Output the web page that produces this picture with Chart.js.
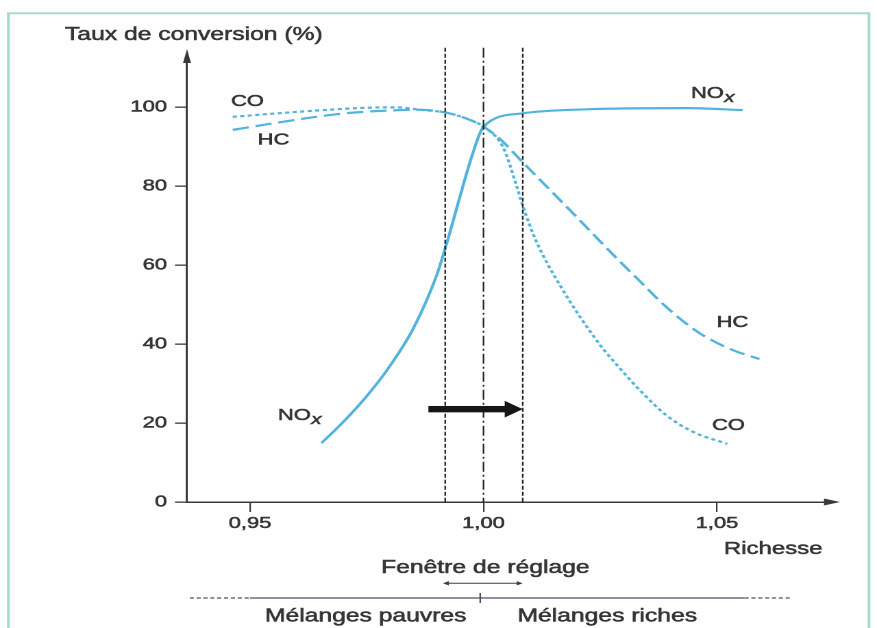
<!DOCTYPE html>
<html>
<head>
<meta charset="utf-8">
<script src="https://cdn.jsdelivr.net/npm/chart.js@4.4.1/dist/chart.umd.min.js"></script>
<style>
  html, body { margin: 0; padding: 0; background: #ffffff; overflow: hidden; }
  #wrap { position: absolute; left: 0; top: 0; width: 640px; height: 628px;
          transform: scaleX(1.3703125); transform-origin: 0 0; }
</style>
</head>
<body>
<div id="wrap"><canvas id="c"></canvas></div>
<script>
// ---------- data ----------
const richesseTicks = [0.95, 1.00, 1.05];
const tauxTicks = [0, 20, 40, 60, 80, 100];

const coRichesse = [0.9463, 0.9606, 0.9750, 0.9815, 0.9863, 0.9918, 0.9965, 1.0000, 1.0041, 1.0071, 1.0084, 1.0113, 1.0163, 1.0248, 1.0291, 1.0334, 1.0391, 1.0448, 1.0522];
const coTaux     = [97.5,   98.8,   99.8,   99.9,   99.3,   98.6,   97.0,   95.0,   90.0,   80.0,   75.0,   66.0,   55.0,   40.0,   34.0,   28.4,   22.0,   17.8,   14.7];

const hcRichesse = [0.9463, 0.9557, 0.9642, 0.9713, 0.9820, 0.9863, 0.9918, 0.9965, 1.0000, 1.0036, 1.0079, 1.0184, 1.0291, 1.0334, 1.0391, 1.0462, 1.0533, 1.0591];
const hcTaux     = [94.2,   96.0,   97.5,   98.5,   99.2,   99.3,   98.6,   97.0,   95.0,   91.8,   86.6,   74.0,   61.0,   56.0,   49.4,   42.8,   38.5,   36.2];

const noxRichesse = [0.9653, 0.9700, 0.9750, 0.9800, 0.9850, 0.9900, 0.9925, 0.9950, 0.9975, 1.0000, 1.0084, 1.0220, 1.0435, 1.0555];
const noxTaux     = [14.9,   20.3,   26.8,   34.5,   44.0,   57.5,   67.0,   77.5,   87.5,   95.0,   98.4,   99.4,   99.7,   99.2];

const windowLines = [0.9918, 1.0000, 1.0084];   // fenêtre de réglage
const shiftArrow = { from: 0.9882, to: 1.0084, taux: 23.5 };

// ---------- styles / layout ----------
const S = 877 / 640;                 // horizontal stretch of the scanned figure
const FONT = '"Liberation Sans", Arial, Helvetica, sans-serif';
const TEXT = '#363636';
const STROKE_W = 0.55;
const AXIS = '#3a3a3a';
const CURVE = '#52b3dc';
const XMIN = 0.93651, XMAX = 1.07420, YMAX = 112.9;

const curveLabels = [
  { t: 'CO',  x: 0.94946, y: 101.4 },
  { t: 'HC',  x: 0.95503, y: 91.6 },
  { t: 'NOx', x: 1.04904, y: 103.4 },
  { t: 'HC',  x: 1.05332, y: 45.4 },
  { t: 'CO',  x: 1.05246, y: 19.4 },
  { t: 'NOx', x: 0.96060, y: 21.9 }
];

function text(ctx, s, px, py, size, align, baseline, italic) {
  ctx.font = (italic ? 'italic ' : '') + size + 'px ' + FONT;
  ctx.fillStyle = TEXT;
  ctx.strokeStyle = TEXT;
  ctx.lineWidth = STROKE_W;
  ctx.textAlign = align || 'center';
  ctx.textBaseline = baseline || 'middle';
  ctx.fillText(s, px, py);
  ctx.strokeText(s, px, py);
}
function noxText(ctx, px, py, size) {
  ctx.font = size + 'px ' + FONT;
  const w1 = ctx.measureText('NO').width;
  ctx.font = 'italic ' + (size - 1) + 'px ' + FONT;
  const w2 = ctx.measureText('x').width;
  const left = px - (w1 + w2) / 2;
  text(ctx, 'NO', left, py, size, 'left', 'middle');
  text(ctx, 'x', left + w1 + 0.3, py + 4.5, size - 1, 'left', 'middle', true);
}

const annotations = {
  id: 'annotations',
  beforeDraw(chart) {
    const ctx = chart.ctx;
    ctx.save();
    ctx.strokeStyle = '#a6dbd0';
    ctx.lineWidth = 2;
    ctx.beginPath();
    ctx.moveTo(8.3 / S, 640); ctx.lineTo(8.3 / S, 13.3); ctx.lineTo(869 / S, 13.3); ctx.lineTo(869 / S, 640);
    ctx.stroke();
    ctx.restore();
  },
  afterDraw(chart) {
    const { ctx, chartArea: a, scales: { x, y } } = chart;
    ctx.save();

    // title of the vertical axis
    text(ctx, 'Taux de conversion (%)', 65 / S, 40, 18, 'left', 'alphabetic');

    // window lines
    windowLines.forEach((v, i) => {
      const px = x.getPixelForValue(v);
      ctx.strokeStyle = '#222222';
      ctx.lineWidth = 1.15;
      ctx.setLineDash(i === 1 ? [10, 3, 2, 3] : [4, 2]);
      ctx.beginPath();
      ctx.moveTo(px, y.getPixelForValue(115));
      ctx.lineTo(px, a.bottom);
      ctx.stroke();
    });
    ctx.setLineDash([]);

    // axis arrowheads
    ctx.fillStyle = AXIS;
    ctx.beginPath();
    ctx.moveTo(a.left, a.top - 7);
    ctx.lineTo(a.left - 4 / S, a.top + 7);
    ctx.lineTo(a.left + 4 / S, a.top + 7);
    ctx.closePath(); ctx.fill();
    ctx.beginPath();
    ctx.moveTo(a.right + 10 / S, a.bottom);
    ctx.lineTo(a.right - 6 / S, a.bottom - 3.5);
    ctx.lineTo(a.right - 6 / S, a.bottom + 3.5);
    ctx.closePath(); ctx.fill();

    // thick black arrow
    const ay = y.getPixelForValue(shiftArrow.taux);
    const ax0 = x.getPixelForValue(shiftArrow.from);
    const ax1 = x.getPixelForValue(shiftArrow.to);
    const headLen = 18 / S;
    ctx.fillStyle = '#161616';
    ctx.fillRect(ax0, ay - 3.2, ax1 - headLen - ax0 + 1, 6.4);
    ctx.beginPath();
    ctx.moveTo(ax1, ay);
    ctx.lineTo(ax1 - headLen, ay - 8.3);
    ctx.lineTo(ax1 - headLen, ay + 8.3);
    ctx.closePath(); ctx.fill();

    // curve labels
    curveLabels.forEach(l => {
      const px = x.getPixelForValue(l.x), py = y.getPixelForValue(l.y);
      if (l.t === 'NOx') noxText(ctx, px, py, 16);
      else text(ctx, l.t, px, py, 16, 'center', 'middle');
    });

    // axis name
    text(ctx, 'Richesse', x.getPixelForValue(1.0726), 554, 17.5, 'right', 'alphabetic');

    // fenêtre de réglage
    text(ctx, 'Fenêtre de réglage', x.getPixelForValue(1.0004), 573, 18, 'center', 'alphabetic');
    const f0 = x.getPixelForValue(0.9913), f1 = x.getPixelForValue(1.0084), fy = 583.3;
    ctx.strokeStyle = '#3a3f4a'; ctx.fillStyle = '#3a3f4a'; ctx.lineWidth = 1;
    ctx.beginPath(); ctx.moveTo(f0 + 3, fy); ctx.lineTo(f1 - 3, fy); ctx.stroke();
    ctx.beginPath(); ctx.moveTo(f0, fy); ctx.lineTo(f0 + 6 / S, fy - 2.2); ctx.lineTo(f0 + 6 / S, fy + 2.2); ctx.closePath(); ctx.fill();
    ctx.beginPath(); ctx.moveTo(f1, fy); ctx.lineTo(f1 - 6 / S, fy - 2.2); ctx.lineTo(f1 - 6 / S, fy + 2.2); ctx.closePath(); ctx.fill();

    // lean / rich line
    const ly = 598;
    ctx.strokeStyle = '#4a5262'; ctx.lineWidth = 1.3;
    ctx.setLineDash([3, 2]);
    ctx.beginPath(); ctx.moveTo(x.getPixelForValue(0.9371), ly); ctx.lineTo(x.getPixelForValue(0.9500), ly); ctx.stroke();
    ctx.beginPath(); ctx.moveTo(x.getPixelForValue(1.0559), ly); ctx.lineTo(x.getPixelForValue(1.0659), ly); ctx.stroke();
    ctx.setLineDash([]);
    ctx.beginPath(); ctx.moveTo(x.getPixelForValue(0.9500), ly); ctx.lineTo(x.getPixelForValue(1.0559), ly); ctx.stroke();
    const tx = x.getPixelForValue(0.9993);
    ctx.lineWidth = 1.2;
    ctx.beginPath(); ctx.moveTo(tx, ly - 5); ctx.lineTo(tx, ly + 5); ctx.stroke();

    text(ctx, 'Mélanges pauvres', x.getPixelForValue(0.99636), 621.5, 18, 'right', 'alphabetic');
    text(ctx, 'Mélanges riches', x.getPixelForValue(1.00728), 621.5, 18, 'left', 'alphabetic');

    ctx.restore();
  }
};

function series(xs, ys) { return xs.map((v, i) => ({ x: v, y: ys[i] })); }

new Chart(document.getElementById('c'), {
  type: 'line',
  data: {
    datasets: [
      { label: 'NOx', data: series(noxRichesse, noxTaux), borderColor: CURVE, borderWidth: 2.2,
        pointRadius: 0, cubicInterpolationMode: 'monotone', fill: false },
      { label: 'HC', data: series(hcRichesse, hcTaux), borderColor: CURVE, borderWidth: 2.2,
        borderDash: [12, 5], pointRadius: 0, cubicInterpolationMode: 'monotone', fill: false },
      { label: 'CO', data: series(coRichesse, coTaux), borderColor: CURVE, borderWidth: 2.2,
        borderDash: [3, 2.5], pointRadius: 0, cubicInterpolationMode: 'monotone', fill: false }
    ]
  },
  options: {
    responsive: true,
    maintainAspectRatio: false,
    animation: false,
    devicePixelRatio: 2,
    events: [],
    layout: { padding: { left: 65 / S, right: 640 - 830 / S, top: 56, bottom: 0 } },
    plugins: {
      legend: { display: false },
      tooltip: { enabled: false },
      title: { display: false }
    },
    scales: {
      x: {
        type: 'linear', min: XMIN, max: XMAX,
        afterBuildTicks: s => { s.ticks = richesseTicks.map(v => ({ value: v })); },
        afterFit: s => { s.height = 126; },
        ticks: {
          callback: v => Number(v).toFixed(2).replace('.', ','),
          color: TEXT, textStrokeColor: TEXT, textStrokeWidth: STROKE_W,
          font: { family: FONT, size: 16 }, padding: 2,
          maxRotation: 0, autoSkip: false
        },
        grid: { display: true, drawOnChartArea: false, drawTicks: true, tickLength: 10,
                color: AXIS, lineWidth: 1.1 },
        border: { display: true, color: AXIS, width: 1.5 }
      },
      y: {
        type: 'linear', min: 0, max: YMAX,
        afterBuildTicks: s => { s.ticks = tauxTicks.map(v => ({ value: v })); },
        afterFit: s => { s.width = (187 - 65) / S; },
        ticks: { color: TEXT, textStrokeColor: TEXT, textStrokeWidth: STROKE_W,
                 font: { family: FONT, size: 16 }, padding: 5.8, autoSkip: false },
        grid: { display: true, drawOnChartArea: false, drawTicks: true, tickLength: 8.8,
                color: AXIS, lineWidth: 1.3 },
        border: { display: true, color: AXIS, width: 1.5 }
      }
    }
  },
  plugins: [annotations]
});
</script>
</body>
</html>
